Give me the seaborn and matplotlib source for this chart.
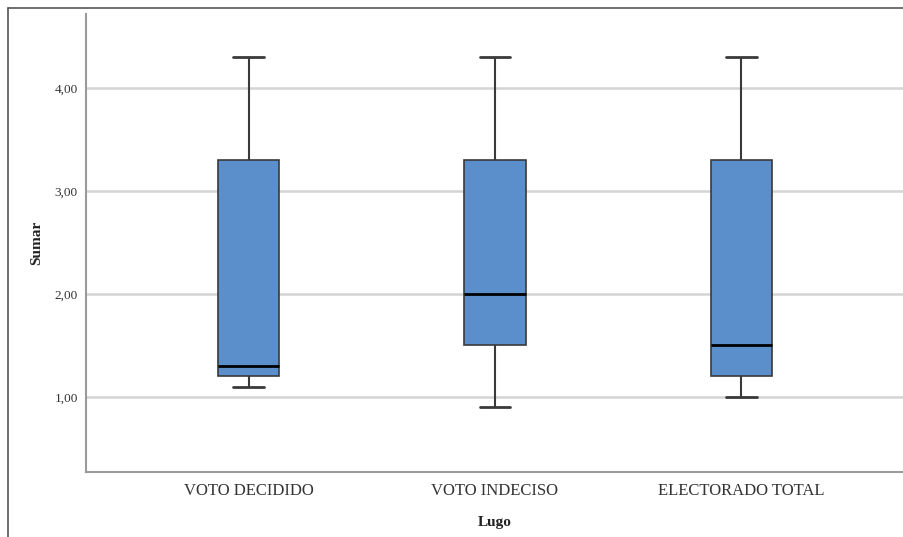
import numpy as np
import pandas as pd
import seaborn as sns
import matplotlib.pyplot as plt
from matplotlib.lines import Line2D

# categories and values (min, Q1, median, Q3, max)
grupos = ["VOTO DECIDIDO", "VOTO INDECISO", "ELECTORADO TOTAL"]
voto_decidido = [1.10, 1.20, 1.30, 3.30, 4.30]
voto_indeciso = [0.90, 1.50, 2.00, 3.30, 4.30]
electorado_total = [1.00, 1.20, 1.50, 3.30, 4.30]
y_ticks = [1, 2, 3, 4]
y_tick_labels = ["1,00", "2,00", "3,00", "4,00"]

df = pd.DataFrame({
    "Lugo": np.repeat(grupos, 5),
    "Sumar": voto_decidido + voto_indeciso + electorado_total,
})

sns.set_style("white")
plt.rcParams['font.family'] = ['Liberation Serif', 'DejaVu Serif']

fig = plt.figure(figsize=(9.04, 5.37), dpi=100)
ax = fig.add_axes([86/904, 1-472/537, 1-86/904, (472-14)/537])

sns.boxplot(data=df, x="Lugo", y="Sumar", ax=ax, order=grupos,
            color="#5b8fcc", saturation=1, width=0.25, whis=(0, 100),
            linewidth=1.2, linecolor="#3a3a3a",
            medianprops=dict(color="black", linewidth=2),
            whiskerprops=dict(color="#3a3a3a", linewidth=1.5),
            capprops=dict(color="#3a3a3a", linewidth=2),
            boxprops=dict(edgecolor="#3a3a3a"),
            zorder=3)

ax.set_ylim(0.27, 4.72)
ax.set_xlim(-0.66, 2.66)
ax.set_yticks(y_ticks)
ax.set_yticklabels(y_tick_labels)
ax.yaxis.grid(True, color="#d4d4d4", linewidth=1.8, zorder=0)
ax.set_axisbelow(True)
ax.tick_params(axis='y', length=0, pad=6, labelsize=9.5, labelcolor="#333333")
ax.tick_params(axis='x', length=0, pad=8, labelsize=12, labelcolor="#333333")
ax.set_xlabel("Lugo", fontsize=11, fontweight='bold', color="#222222", labelpad=12)
ax.set_ylabel("Sumar", fontsize=11, fontweight='bold', color="#222222", labelpad=8)

for s in ["top", "right"]:
    ax.spines[s].set_visible(False)
for s in ["left", "bottom"]:
    ax.spines[s].set_color("#9a9a9a")
    ax.spines[s].set_linewidth(1.5)

# outer frame of the original figure
fig.add_artist(Line2D([8/904, 8/904], [0, 1-8/537], color="#555555", linewidth=1.2))
fig.add_artist(Line2D([8/904, 1], [1-8/537, 1-8/537], color="#555555", linewidth=1.2))

fig.savefig("out.png", dpi=100)
